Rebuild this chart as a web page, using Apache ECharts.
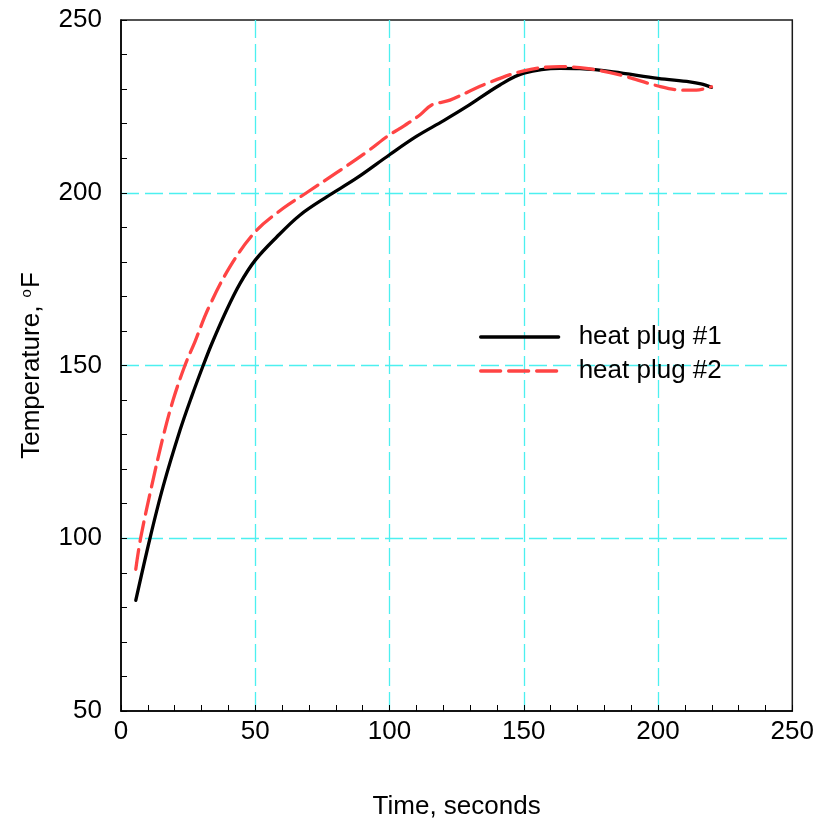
<!DOCTYPE html>
<html>
<head>
<meta charset="utf-8">
<script src="https://cdn.jsdelivr.net/npm/echarts@6/dist/echarts.min.js"></script>
<style>
html,body{margin:0;padding:0;background:#fff;}
#chart{width:817px;height:825px;}
</style>
</head>
<body>
<div id="chart"></div>
<script>
// Data
const seriesNames = ['heat plug #1', 'heat plug #2'];
const plug1Time = [5.5, 10.8, 15.7, 22.0, 26.3, 30.6, 33.8, 39.3, 44.3, 50.0, 58.0, 66.6, 76.6, 87.7, 100.0, 110.0, 120.0, 128.7, 141.1, 150.0, 163.4, 170.9, 183.3, 200.0, 211.8, 216.0, 219.9];
const plug1Temp = [82.0, 100.0, 115.0, 131.3, 141.0, 150.0, 156.3, 166.0, 173.7, 180.5, 187.2, 193.5, 198.8, 204.2, 211.0, 216.3, 220.8, 224.9, 231.2, 234.6, 236.0, 235.9, 235.0, 233.1, 232.1, 231.5, 230.5];
const plug2Time = [5.5, 7.3, 11.4, 15.7, 19.4, 23.8, 27.6, 32.5, 40.6, 50.0, 60.4, 69.1, 80.3, 91.5, 100.0, 103.9, 111.3, 115.7, 122.5, 134.9, 150.0, 163.4, 173.3, 185.8, 200.0, 209.3, 214.3, 219.9];
const plug2Temp = [91.0, 100.0, 115.0, 129.4, 140.0, 150.0, 157.0, 166.5, 178.6, 188.7, 195.5, 200.0, 205.8, 211.8, 216.8, 218.6, 222.5, 225.4, 226.8, 231.2, 235.3, 236.5, 236.0, 234.1, 230.9, 229.7, 229.7, 230.7];
const xTicks = [0, 50, 100, 150, 200, 250];
const yTicks = [50, 100, 150, 200, 250];

const zip = (a, b) => a.map((v, i) => [v, b[i]]);

const chart = echarts.init(document.getElementById('chart'), null, {renderer: 'canvas'});
const FONT = 'Liberation Sans, Arial, Helvetica, sans-serif';
const gridLine = {show: true, showMinLine: false, showMaxLine: false,
  lineStyle: {color: '#4cf0f0', width: 1.3, type: [18, 6]}};

chart.setOption({
  animation: false,
  backgroundColor: '#fff',
  grid: {left: 121, right: 24.5, top: 20, bottom: 114, show: true, borderColor: '#1a1a1a', borderWidth: 1.5, containLabel: false},
  xAxis: {
    type: 'value', min: xTicks[0], max: xTicks[xTicks.length - 1], interval: 50,
    name: 'Time, seconds', nameLocation: 'middle', nameGap: 83,
    nameTextStyle: {fontSize: 26, color: '#000', fontFamily: FONT},
    axisLine: {show: true, onZero: false, lineStyle: {color: '#000', width: 1.5}},
    axisTick: {show: true, inside: true, length: 6, lineStyle: {color: '#000', width: 1}},
    minorTick: {show: true, splitNumber: 5, length: 6, lineStyle: {color: '#000', width: 1}},
    axisLabel: {fontSize: 26, color: '#000', fontFamily: FONT, margin: 8},
    splitLine: gridLine
  },
  yAxis: {
    type: 'value', min: yTicks[0], max: yTicks[yTicks.length - 1], interval: 50,
    name: 'Temperature, {s|o}F', nameLocation: 'middle', nameGap: 76,
    nameTextStyle: {fontSize: 26, color: '#000', fontFamily: FONT,
      rich: {s: {fontSize: 15, color: '#000', fontFamily: FONT, verticalAlign: 'top', padding: [0, 1, 10, 1]}}},
    axisLine: {show: true, onZero: false, lineStyle: {color: '#000', width: 1.5}},
    axisTick: {show: true, inside: true, length: 6, lineStyle: {color: '#000', width: 1}},
    minorTick: {show: true, splitNumber: 5, length: 6, lineStyle: {color: '#000', width: 1}},
    axisLabel: {fontSize: 26, color: '#000', fontFamily: FONT, margin: 19},
    splitLine: gridLine
  },
  legend: {
    left: 479, top: 324, orient: 'vertical', padding: 0,
    itemWidth: 78, itemHeight: 14, itemGap: 8,
    itemStyle: {opacity: 0},
    lineStyle: {width: 3.3},
    textStyle: {fontSize: 26, color: '#000', fontFamily: FONT, padding: [0, 0, 0, 15]},
    data: seriesNames
  },
  series: [
    {
      name: seriesNames[0], type: 'line', data: zip(plug1Time, plug1Temp),
      smooth: 0.35, symbol: 'none', showSymbol: false,
      lineStyle: {color: '#000', width: 3.3, cap: 'round', join: 'round'},
      itemStyle: {color: '#000'}, z: 3
    },
    {
      name: seriesNames[1], type: 'line', data: zip(plug2Time, plug2Temp),
      smooth: 0.35, symbol: 'none', showSymbol: false,
      lineStyle: {color: '#ff4444', width: 3.3, type: [20, 8], cap: 'round', join: 'round'},
      itemStyle: {color: '#ff4444'}, z: 4
    }
  ]
});
</script>
</body>
</html>
